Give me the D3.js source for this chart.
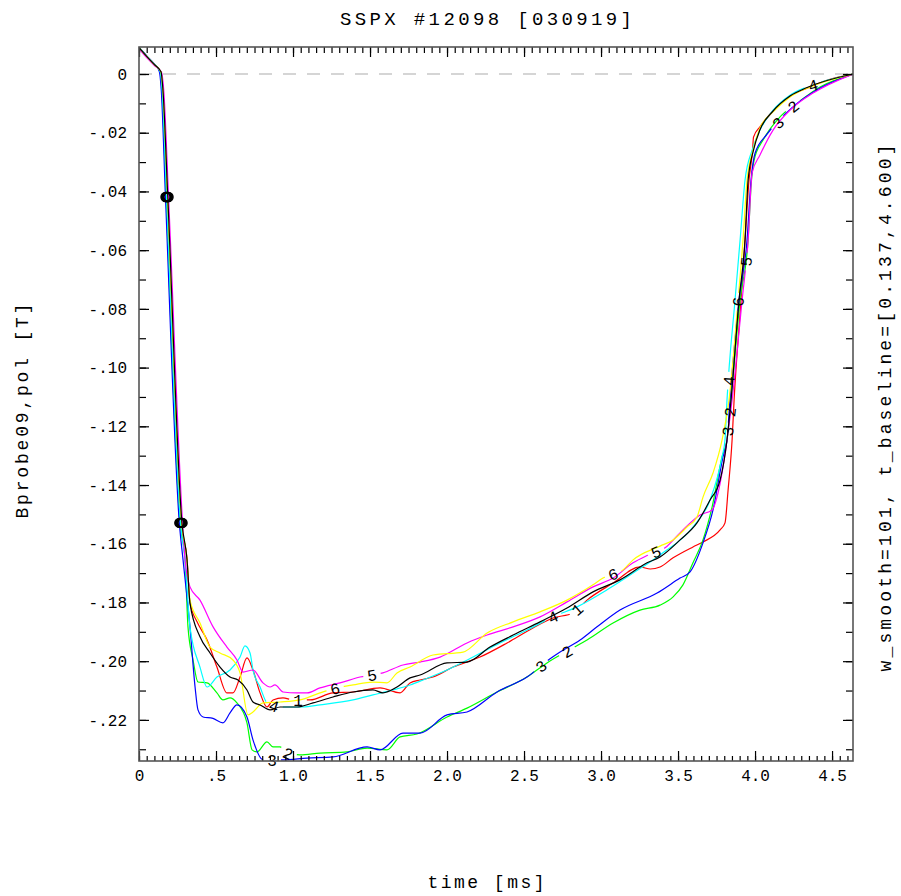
<!DOCTYPE html>
<html>
<head>
<meta charset="utf-8">
<title>SSPX #12098 [030919]</title>
<script src="https://cdn.jsdelivr.net/npm/d3@7"></script>
<style>
  body { margin: 0; background: #fff; }
  text { font-family: "Liberation Mono", "DejaVu Sans Mono", monospace; fill: #000; }
</style>
</head>
<body>
<svg width="901" height="896"></svg>
<script>
// traces: [time ms, Bprobe09,pol T]
var probe1 = [[0,0.0090],[0.05,0.0060],[0.10,0.0032],[0.14,0.0008],[0.152,-0.005],[0.182,-0.042],[0.273,-0.153],[0.312,-0.1655],[0.331,-0.1801],[0.377,-0.1866],[0.442,-0.1928],[0.506,-0.2020],[0.571,-0.2108],[0.610,-0.2108],[0.656,-0.2054],[0.701,-0.1989],[0.740,-0.2030],[0.786,-0.2108],[0.831,-0.2156],[0.870,-0.2132],[0.935,-0.2125],[1.000,-0.2132],[1.110,-0.2132],[1.260,-0.2108],[1.390,-0.2105],[1.565,-0.2091],[1.695,-0.2108],[1.760,-0.2074],[1.825,-0.2064],[1.909,-0.2054],[2.039,-0.2020],[2.214,-0.1986],[2.390,-0.1938],[2.558,-0.1887],[2.688,-0.1853],[2.818,-0.1836],[2.909,-0.1792],[3.078,-0.1734],[3.253,-0.1679],[3.320,-0.1686],[3.383,-0.1679],[3.468,-0.1648],[3.597,-0.1611],[3.662,-0.1594],[3.773,-0.1553],[3.805,-0.1529],[3.825,-0.1417],[3.851,-0.1246],[3.864,-0.1110],[3.909,-0.0770],[3.935,-0.0565],[3.961,-0.0361],[3.984,-0.0259],[3.990,-0.0215],[4.032,-0.0180],[4.117,-0.0126],[4.227,-0.0075],[4.338,-0.0048],[4.487,-0.0018],[4.636,0]];
var probe2 = [[0,0.0091],[0.05,0.0061],[0.10,0.0033],[0.136,0.0008],[0.148,-0.005],[0.176,-0.042],[0.266,-0.153],[0.299,-0.1655],[0.318,-0.1883],[0.351,-0.1996],[0.383,-0.2071],[0.442,-0.2074],[0.506,-0.2108],[0.545,-0.2132],[0.591,-0.2125],[0.636,-0.2142],[0.701,-0.2210],[0.734,-0.2302],[0.766,-0.2309],[0.831,-0.2275],[0.870,-0.2292],[0.916,-0.2292],[0.961,-0.2313],[1.045,-0.2319],[1.175,-0.2313],[1.351,-0.2309],[1.481,-0.2296],[1.610,-0.2302],[1.695,-0.2258],[1.805,-0.2248],[2.000,-0.2190],[2.130,-0.2160],[2.325,-0.2105],[2.519,-0.2054],[2.649,-0.2006],[2.818,-0.1955],[2.909,-0.1928],[3.078,-0.1870],[3.253,-0.1826],[3.383,-0.1809],[3.468,-0.1781],[3.532,-0.1740],[3.597,-0.1665],[3.662,-0.1587],[3.721,-0.1475],[3.786,-0.1304],[3.818,-0.1246],[3.844,-0.1110],[3.903,-0.0770],[3.955,-0.0565],[3.977,-0.0361],[3.994,-0.0293],[4.052,-0.0225],[4.162,-0.0146],[4.273,-0.0099],[4.422,-0.0044],[4.636,0]];
var probe3 = [[0,0.0091],[0.05,0.0062],[0.10,0.0034],[0.132,0.0008],[0.144,-0.005],[0.172,-0.042],[0.262,-0.153],[0.286,-0.1655],[0.331,-0.1883],[0.364,-0.2088],[0.383,-0.2166],[0.416,-0.2190],[0.480,-0.2195],[0.545,-0.2210],[0.591,-0.2176],[0.636,-0.2149],[0.701,-0.2190],[0.740,-0.2268],[0.805,-0.2336],[0.935,-0.2336],[1.091,-0.2330],[1.260,-0.2326],[1.481,-0.2292],[1.565,-0.2302],[1.714,-0.2245],[1.825,-0.2245],[2.000,-0.2183],[2.130,-0.2173],[2.325,-0.2105],[2.519,-0.2054],[2.669,-0.1992],[2.734,-0.1969],[2.864,-0.1928],[2.974,-0.1883],[3.123,-0.1826],[3.364,-0.1768],[3.513,-0.1717],[3.578,-0.1696],[3.662,-0.1597],[3.727,-0.1485],[3.792,-0.1304],[3.818,-0.1246],[3.837,-0.1110],[3.896,-0.0770],[3.948,-0.0565],[3.974,-0.0361],[4.000,-0.0270],[4.078,-0.0205],[4.247,-0.0112],[4.422,-0.0048],[4.636,0]];
var probe4 = [[0,0.0090],[0.05,0.0060],[0.10,0.0032],[0.138,0.0008],[0.150,-0.005],[0.179,-0.042],[0.270,-0.153],[0.299,-0.1655],[0.331,-0.1883],[0.396,-0.2020],[0.442,-0.2088],[0.506,-0.2054],[0.591,-0.2030],[0.656,-0.1986],[0.688,-0.1948],[0.721,-0.1972],[0.740,-0.2030],[0.786,-0.2088],[0.831,-0.2142],[0.896,-0.2156],[0.961,-0.2156],[1.065,-0.2156],[1.175,-0.2149],[1.390,-0.2132],[1.519,-0.2115],[1.649,-0.2098],[1.760,-0.2081],[1.844,-0.2064],[2.000,-0.2030],[2.169,-0.1986],[2.344,-0.1938],[2.519,-0.1894],[2.688,-0.1849],[2.844,-0.1815],[3.039,-0.1757],[3.208,-0.1700],[3.383,-0.1638],[3.597,-0.1543],[3.708,-0.1451],[3.786,-0.1304],[3.805,-0.1246],[3.818,-0.1110],[3.870,-0.0770],[3.903,-0.0565],[3.935,-0.0361],[3.981,-0.0259],[4.032,-0.0191],[4.117,-0.0123],[4.227,-0.0072],[4.338,-0.0044],[4.636,0]];
var probe5 = [[0,0.0086],[0.05,0.0056],[0.10,0.0029],[0.146,0.0006],[0.160,-0.005],[0.192,-0.042],[0.283,-0.153],[0.299,-0.1655],[0.331,-0.1747],[0.396,-0.1792],[0.481,-0.1883],[0.571,-0.1952],[0.636,-0.1996],[0.675,-0.2037],[0.740,-0.2030],[0.805,-0.2074],[0.851,-0.2088],[0.883,-0.2081],[0.935,-0.2105],[1.026,-0.2108],[1.091,-0.2108],[1.175,-0.2091],[1.305,-0.2074],[1.435,-0.2054],[1.584,-0.2040],[1.714,-0.2013],[1.825,-0.2003],[1.955,-0.1986],[2.130,-0.1938],[2.260,-0.1911],[2.429,-0.1883],[2.604,-0.1849],[2.779,-0.1798],[2.948,-0.1747],[3.078,-0.1717],[3.208,-0.1665],[3.300,-0.1640],[3.416,-0.1614],[3.513,-0.1563],[3.643,-0.1502],[3.721,-0.1485],[3.753,-0.1441],[3.792,-0.1339],[3.818,-0.1246],[3.851,-0.1110],[3.916,-0.0770],[3.955,-0.0565],[3.981,-0.0337],[4.032,-0.0276],[4.117,-0.0191],[4.227,-0.0123],[4.377,-0.0065],[4.636,0]];
var probe6 = [[0,0.0090],[0.05,0.0060],[0.10,0.0032],[0.142,0.0008],[0.154,-0.005],[0.185,-0.042],[0.277,-0.153],[0.312,-0.1655],[0.331,-0.1792],[0.396,-0.1870],[0.461,-0.1952],[0.526,-0.1972],[0.610,-0.1996],[0.656,-0.2040],[0.708,-0.2183],[0.740,-0.2173],[0.805,-0.2142],[0.916,-0.2139],[1.045,-0.2132],[1.175,-0.2108],[1.286,-0.2091],[1.390,-0.2081],[1.519,-0.2071],[1.610,-0.2074],[1.675,-0.2040],[1.760,-0.2020],[1.909,-0.1979],[2.104,-0.1969],[2.260,-0.1904],[2.429,-0.1866],[2.604,-0.1832],[2.779,-0.1792],[2.948,-0.1740],[3.013,-0.1717],[3.143,-0.1689],[3.208,-0.1655],[3.383,-0.1608],[3.468,-0.1587],[3.558,-0.1543],[3.623,-0.1509],[3.662,-0.1441],[3.727,-0.1359],[3.786,-0.1246],[3.831,-0.1110],[3.890,-0.0770],[3.922,-0.0565],[3.948,-0.0361],[3.987,-0.0259],[4.032,-0.0184],[4.117,-0.0129],[4.227,-0.0078],[4.338,-0.0048],[4.636,0]];
var probeAvg = [[0,0.0090],[0.05,0.0060],[0.10,0.0032],[0.143,0.0008],[0.155,-0.005],[0.187,-0.042],[0.279,-0.153],[0.312,-0.1655],[0.331,-0.1802],[0.396,-0.1917],[0.461,-0.1972],[0.526,-0.2020],[0.591,-0.2054],[0.643,-0.2064],[0.701,-0.2098],[0.740,-0.2139],[0.786,-0.2149],[0.851,-0.2166],[0.916,-0.2156],[1.026,-0.2156],[1.130,-0.2142],[1.260,-0.2122],[1.390,-0.2105],[1.519,-0.2098],[1.584,-0.2108],[1.675,-0.2088],[1.760,-0.2057],[1.825,-0.2047],[2.000,-0.2006],[2.130,-0.2003],[2.279,-0.1952],[2.429,-0.1911],[2.604,-0.1866],[2.779,-0.1819],[2.948,-0.1764],[3.123,-0.1723],[3.299,-0.1665],[3.383,-0.1645],[3.513,-0.1587],[3.623,-0.1529],[3.708,-0.1451],[3.773,-0.1383],[3.818,-0.1246],[3.844,-0.1110],[3.896,-0.0770],[3.935,-0.0565],[3.955,-0.0361],[3.990,-0.0259],[4.032,-0.0190],[4.117,-0.0126],[4.227,-0.0075],[4.338,-0.0046],[4.636,0]];

var series = [probe1, probe2, probe3, probe4, probe5, probe6, probeAvg];
var seriesNames = ["1", "2", "3", "4", "5", "6", ""];
var seriesColors = ["#ff0000", "#00ff00", "#0000ff", "#00ffff", "#ff00ff", "#ffff00", "#000000"];
// times where the curve number is written on the trace
var labelTimes = [[1.032, 2.844], [0.968, 2.779, 3.836, 4.247], [0.864, 2.610, 3.822, 4.149], [0.877, 2.688, 3.828, 4.377], [1.513, 3.357, 3.941], [1.273, 3.078, 3.889], []];
var markLevels = [-0.0419, -0.1529];

var xTickValues = [0, 0.5, 1.0, 1.5, 2.0, 2.5, 3.0, 3.5, 4.0, 4.5];
var xTickLabels = ["0", ".5", "1.0", "1.5", "2.0", "2.5", "3.0", "3.5", "4.0", "4.5"];
var yTickValues = [0, -0.02, -0.04, -0.06, -0.08, -0.10, -0.12, -0.14, -0.16, -0.18, -0.20, -0.22];
var yTickLabels = ["0", "-.02", "-.04", "-.06", "-.08", "-.10", "-.12", "-.14", "-.16", "-.18", "-.20", "-.22"];

var svg = d3.select("svg");
var plotL = 139, plotR = 853, plotT = 47, plotB = 761;

var x = d3.scaleLinear().domain([0, 4.636]).range([plotL, plotR]);
var y = d3.scaleLinear().domain([0.0092, -0.234]).range([plotT, plotB]);

var defs = svg.append("defs");
defs.append("clipPath").attr("id", "plotclip")
  .append("rect").attr("x", plotL).attr("y", plotT)
  .attr("width", plotR - plotL).attr("height", plotB - plotT);

var plot = svg.append("g").attr("clip-path", "url(#plotclip)");

// baseline
plot.append("line")
  .attr("x1", x(0)).attr("x2", x(4.636))
  .attr("y1", y(0)).attr("y2", y(0))
  .attr("stroke", "#c8c8c8").attr("stroke-width", 1.5)
  .attr("stroke-dasharray", "13,11");

// screen position on a trace at time t
function posAt(data, t) {
  for (var i = 0; i < data.length - 1; i++) {
    if (t >= data[i][0] && t <= data[i + 1][0]) {
      var f = (t - data[i][0]) / (data[i + 1][0] - data[i][0]);
      return [x(t), y(data[i][1] + f * (data[i + 1][1] - data[i][1]))];
    }
  }
  return [x(t), y(data[data.length - 1][1])];
}

function labelPoint(data, t) {
  var p = posAt(data, t);
  var a = posAt(data, t - 0.03), b = posAt(data, t + 0.03);
  var ang = Math.atan2(b[1] - a[1], b[0] - a[0]) * 180 / Math.PI;
  return { x: p[0], y: p[1], angle: ang };
}

function crossTime(data, level) {
  for (var i = 0; i < data.length - 1; i++) {
    if (data[i][1] >= level && data[i + 1][1] < level) {
      var f = (data[i][1] - level) / (data[i][1] - data[i + 1][1]);
      return data[i][0] + f * (data[i + 1][0] - data[i][0]);
    }
  }
  return null;
}

var line = d3.line()
  .x(function (d) { return x(d[0]); })
  .y(function (d) { return y(d[1]); })
  .curve(d3.curveMonotoneX);

var allLabels = [];
series.forEach(function (data, i) {
  var labs = labelTimes[i].map(function (t) {
    var p = labelPoint(data, t);
    p.name = seriesNames[i];
    return p;
  });
  allLabels = allLabels.concat(labs);

  var m = defs.append("mask").attr("id", "gap" + i)
    .attr("maskUnits", "userSpaceOnUse")
    .attr("x", 0).attr("y", 0).attr("width", 901).attr("height", 896);
  m.append("rect").attr("width", 901).attr("height", 896).attr("fill", "white");
  m.selectAll("circle").data(labs).enter().append("circle")
    .attr("cx", function (d) { return d.x; })
    .attr("cy", function (d) { return d.y; })
    .attr("r", 9).attr("fill", "black");

  plot.append("path")
    .datum(data)
    .attr("d", line)
    .attr("fill", "none")
    .attr("stroke", seriesColors[i])
    .attr("stroke-width", 1.2)
    .attr("mask", "url(#gap" + i + ")");
});

// curve numbers
svg.append("g").selectAll("text")
  .data(allLabels).enter().append("text")
  .attr("transform", function (d) { return "translate(" + d.x + "," + d.y + ") rotate(" + d.angle + ")"; })
  .attr("text-anchor", "middle")
  .attr("dy", "0.36em")
  .style("font-size", "16px")
  .text(function (d) { return d.name; });

// level markers
var marks = [];
series.forEach(function (data) {
  markLevels.forEach(function (lv) {
    var t = crossTime(data, lv);
    if (t !== null) marks.push([t, lv]);
  });
});
svg.append("g").selectAll("circle")
  .data(marks).enter().append("circle")
  .attr("cx", function (d) { return x(d[0]); })
  .attr("cy", function (d) { return y(d[1]); })
  .attr("r", 4.5)
  .attr("fill", "none")
  .attr("stroke", "#000")
  .attr("stroke-width", 1.4);

// axes
var xMinor = d3.range(0, 4.64, 0.05);
var yMinor = d3.range(0, -0.2345, -0.01);

function styleAxis(g) {
  g.select(".domain").remove();
  g.selectAll(".tick line").attr("stroke", "#000").attr("stroke-width", 1.2);
  g.selectAll(".tick text").style("font-size", "16px").attr("fill", "#000");
}

svg.append("g").attr("transform", "translate(0," + plotB + ")")
  .call(d3.axisBottom(x).tickValues(xMinor).tickSize(-5).tickFormat(""))
  .call(styleAxis);
svg.append("g").attr("transform", "translate(0," + plotB + ")")
  .call(d3.axisBottom(x).tickValues(xTickValues).tickSize(-10).tickPadding(9)
    .tickFormat(function (d, i) { return xTickLabels[i]; }))
  .call(styleAxis);
svg.append("g").attr("transform", "translate(0," + plotT + ")")
  .call(d3.axisTop(x).tickValues(xMinor).tickSize(-6).tickFormat(""))
  .call(styleAxis);
svg.append("g").attr("transform", "translate(0," + plotT + ")")
  .call(d3.axisTop(x).tickValues(xTickValues).tickSize(-10).tickFormat(""))
  .call(styleAxis);

svg.append("g").attr("transform", "translate(" + plotL + ",0)")
  .call(d3.axisLeft(y).tickValues(yMinor).tickSize(-7).tickFormat(""))
  .call(styleAxis);
svg.append("g").attr("transform", "translate(" + plotL + ",0)")
  .call(d3.axisLeft(y).tickValues(yTickValues).tickSize(-10).tickPadding(12)
    .tickFormat(function (d, i) { return yTickLabels[i]; }))
  .call(styleAxis);
svg.append("g").attr("transform", "translate(" + plotR + ",0)")
  .call(d3.axisRight(y).tickValues(yMinor).tickSize(-7).tickFormat(""))
  .call(styleAxis);
svg.append("g").attr("transform", "translate(" + plotR + ",0)")
  .call(d3.axisRight(y).tickValues(yTickValues).tickSize(-10).tickFormat(""))
  .call(styleAxis);

// frame
svg.append("rect")
  .attr("x", plotL).attr("y", plotT)
  .attr("width", plotR - plotL).attr("height", plotB - plotT)
  .attr("fill", "none").attr("stroke", "#555").attr("stroke-width", 1.6);

// titles
svg.append("text")
  .attr("x", 486).attr("y", 25)
  .attr("text-anchor", "middle")
  .attr("textLength", 292).attr("lengthAdjust", "spacing")
  .style("font-size", "19px")
  .text("SSPX #12098 [030919]");

svg.append("text")
  .attr("x", 486).attr("y", 888)
  .attr("text-anchor", "middle")
  .attr("textLength", 117).attr("lengthAdjust", "spacing")
  .style("font-size", "18px")
  .text("time [ms]");

svg.append("text")
  .attr("transform", "translate(28,411) rotate(-90)")
  .attr("text-anchor", "middle")
  .attr("textLength", 215).attr("lengthAdjust", "spacing")
  .style("font-size", "18px")
  .text("Bprobe09,pol [T]");

svg.append("text")
  .attr("transform", "translate(891,408) rotate(-90)")
  .attr("text-anchor", "middle")
  .attr("textLength", 527).attr("lengthAdjust", "spacing")
  .style("font-size", "18px")
  .text("w_smooth=101, t_baseline=[0.137,4.600]");
</script>
</body>
</html>
